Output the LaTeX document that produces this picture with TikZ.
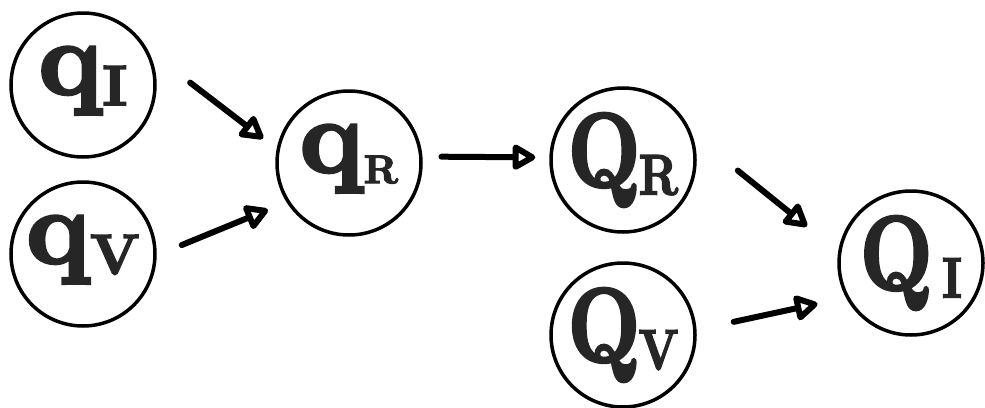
\documentclass[tikz,border=0pt]{standalone}
\usepackage{fontspec}
\usepackage{tikz}
\usetikzlibrary{arrows.meta}
\newfontfamily\heavyfont{lmroman10-bold}[Extension=.otf, FakeBold=3]
\newcommand{\statelabel}[3][57]{\makebox[0pt]{{\fontsize{105}{105}\selectfont #2}\raisebox{-11pt}{\fontsize{#1}{#1}\selectfont #3}}}
\newcommand{\capstatelabel}[3][-2pt]{\makebox[0pt]{\scalebox{0.8}[1]{{\fontsize{105}{105}\selectfont #2}\kern#1\raisebox{-8pt}{\fontsize{57}{57}\selectfont #3}}}}
\tikzset{
    statecircle/.style={
        circle,
        draw=black,
        line width=3.5pt,
        minimum size=144pt,
        inner sep=0pt,
        text=black!85,
        font=\heavyfont
    },
    smallstate/.style={statecircle, text depth=29pt},
    % open triangle tips on thick shafts
    flowarrow/.style={
        line width=6pt,
        line cap=round,
        black,
        -{Triangle[open, length=26pt, width=28pt, line join=round]}
    }
}
\begin{document}
\begin{tikzpicture}[x=1pt,y=-1pt]
    \useasboundingbox (0,0) rectangle (985,407);

    \node[smallstate] (qI) at (83,85) {\statelabel{q}{I}};
    \node[smallstate] (qV) at (83,254) {\statelabel{q}{V}};
    \node[smallstate] (qR) at (349,163) {\statelabel[40]{q}{R}};
    \node[statecircle] (QR) at (623,160) {\capstatelabel{Q}{R}};
    \node[statecircle] (QV) at (623,335) {\capstatelabel{Q}{V}};
    \node[statecircle] (QI) at (911,263) {\capstatelabel[12pt]{Q}{I}};

    \draw[flowarrow, shorten <=53pt, shorten >=17pt] (qI.28) -- (qR.169);
    \draw[flowarrow, shorten <=27pt, shorten >=20pt] (qV.-1) -- (qR.212);
    \draw[flowarrow, shorten <=19pt, shorten >=14pt] (qR.5) -- (QR.178);
    \draw[flowarrow, shorten <=59pt, shorten >=40pt] (QR.21) -- (QI.171);
    \draw[flowarrow, shorten <=38pt, shorten >=29pt] (QV.4) -- (QI.208);
\end{tikzpicture}
\end{document}
